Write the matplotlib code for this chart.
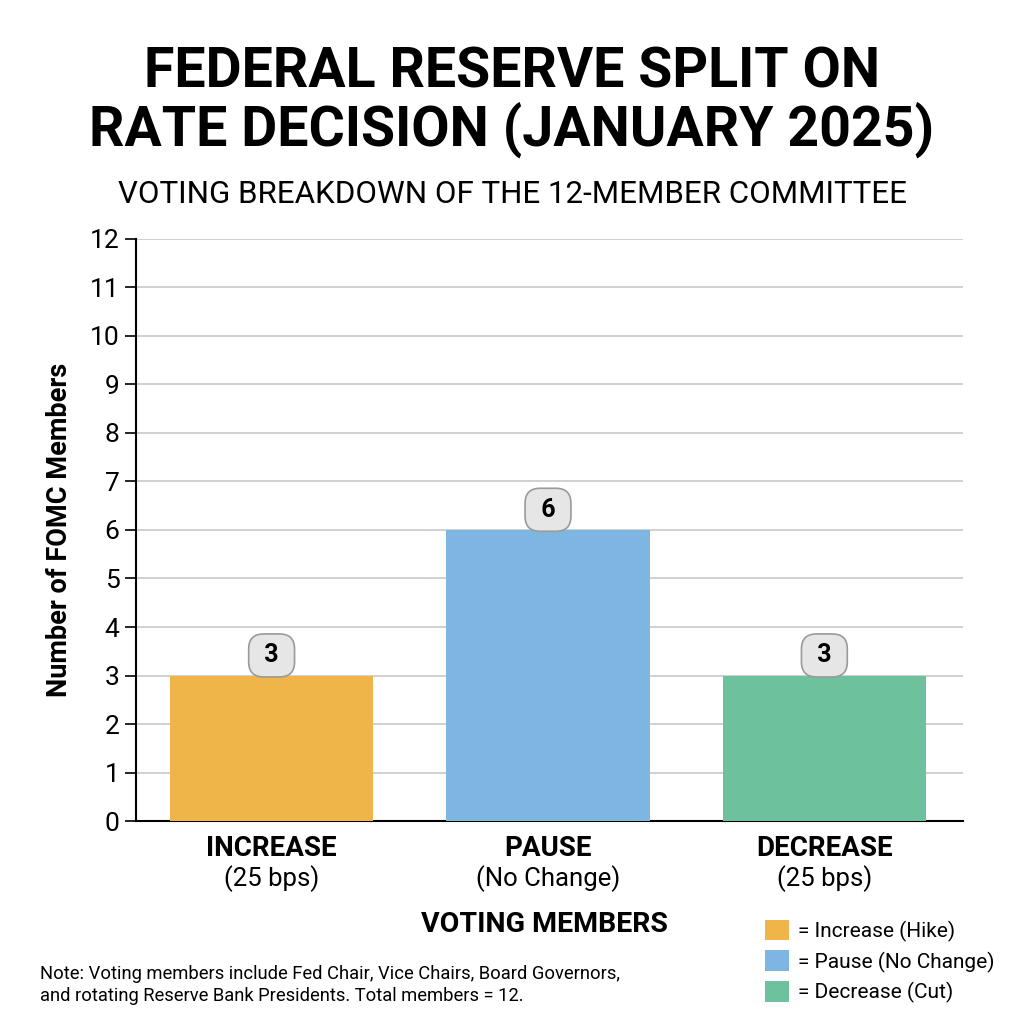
import matplotlib
matplotlib.use("Agg")
import matplotlib.pyplot as plt
from matplotlib.patches import Patch

plt.rcParams['font.family'] = ['Roboto', 'DejaVu Sans']

categories = ["INCREASE", "PAUSE", "DECREASE"]
sublabels = ["(25 bps)", "(No Change)", "(25 bps)"]
votes = [3, 6, 3]
colors = ["#F0B548", "#7DB6E0", "#6DC29D"]
legend_labels = ["= Increase (Hike)", "= Pause (No Change)", "= Decrease (Cut)"]
yticks = list(range(0, 13))

fig = plt.figure(figsize=(10.24, 10.24), dpi=100)
ax = fig.add_axes([0.133, 0.198, 0.807, 0.569])

x = list(range(len(categories)))
bars = ax.bar(x, votes, width=0.735, color=colors, zorder=3)

ax.set_xlim(-0.49, 2.5)
ax.set_ylim(0, 12)
ax.set_yticks(yticks)
ax.tick_params(axis='y', labelsize=19, length=8, width=1.2, pad=4, colors='black')
ax.yaxis.grid(True, color='#c8c8c8', linewidth=1.2, zorder=0)
ax.set_axisbelow(True)
for s in ['top', 'right']:
    ax.spines[s].set_visible(False)
for s in ['left', 'bottom']:
    ax.spines[s].set_linewidth(1.5)
    ax.spines[s].set_color('black')

ax.set_xticks(x)
ax.set_xticklabels([])
ax.tick_params(axis='x', length=0)
for xi, c, s in zip(x, categories, sublabels):
    ax.annotate(c, xy=(xi, 0), xycoords='data', xytext=(0, -19.5), textcoords='offset points',
                ha='center', va='center', fontsize=20, fontweight='bold')
    ax.annotate(s, xy=(xi, 0), xycoords='data', xytext=(0, -41), textcoords='offset points',
                ha='center', va='center', fontsize=18.5)

for xi, v in zip(x, votes):
    ax.annotate(" " + str(v) + " ", xy=(xi, v), xycoords='data', xytext=(0, 14.5), textcoords='offset points',
                ha='center', va='center', fontsize=18, fontweight='bold',
                bbox=dict(boxstyle='round,pad=0.38,rounding_size=0.6', fc='#e6e6e6', ec='#9a9a9a', lw=1.2))

ax.set_ylabel("Number of FOMC Members", fontsize=19.5, fontweight='bold', labelpad=12)

fig.text(0.5, 0.9, "FEDERAL RESERVE SPLIT ON\nRATE DECISION (JANUARY 2025)", ha='center', va='center',
         fontsize=40, fontweight='bold', linespacing=1.08)
fig.text(0.5, 0.81, "VOTING BREAKDOWN OF THE 12-MEMBER COMMITTEE", ha='center', va='center', fontsize=22.5)
fig.text(0.532, 0.097, "VOTING MEMBERS", ha='center', va='center', fontsize=20.5, fontweight='bold')

fig.text(0.039, 0.038, "Note: Voting members include Fed Chair, Vice Chairs, Board Governors,\nand rotating Reserve Bank Presidents. Total members = 12.",
         ha='left', va='center', fontsize=13.2, linespacing=1.32)

handles = [Patch(facecolor=c, edgecolor='none') for c in colors]
fig.legend(handles, legend_labels, loc='center left', bbox_to_anchor=(0.747, 0.061), frameon=False,
           fontsize=15, handlelength=1.15, handleheight=1.15, handletextpad=0.45, labelspacing=0.42,
           borderaxespad=0, borderpad=0)

fig.savefig("out.png", dpi=100, facecolor='white')
